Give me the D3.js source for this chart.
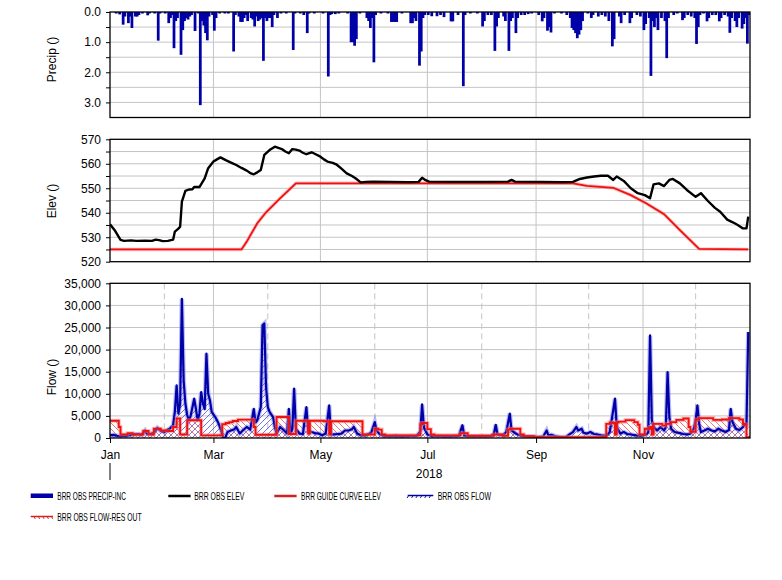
<!DOCTYPE html>
<html>
<head>
<meta charset="utf-8">
<script src="https://cdn.jsdelivr.net/npm/d3@7"></script>
<style>
body { margin: 0; background: #fff; }
text { font-family: "Liberation Sans", Arial, sans-serif; }
</style>
</head>
<body>
<svg id="chart" width="782" height="580"></svg>
<script>
"use strict";

// day-of-year (0 = 1 Jan 2018), value
const precipIn = [
    [3, 0.05], [5, 0.08], [7, 0.42], [8, 0.15], [10, 0.37], [11, 0.15], [12, 0.53], [14, 0.15], [15, 0.15], [16, 0.1],
    [18, 0.05], [21, 0.11], [22, 0.05], [25, 0.05], [27, 0.95], [28, 0.05], [31, 0.05], [33, 0.37], [34, 0.2], [35, 0.1],
    [36, 1.2], [37, 0.3], [38, 0.2], [40, 1.42], [41, 0.6], [42, 0.3], [43, 0.2], [44, 0.25], [45, 0.15], [46, 0.1],
    [48, 0.63], [50, 0.05], [51, 3.09], [52, 0.3], [53, 0.45], [54, 0.7], [55, 0.94], [56, 0.15], [58, 0.1], [59, 0.62],
    [60, 0.2], [62, 0.05], [65, 0.05], [67, 0.05], [70, 1.31], [71, 0.1], [73, 0.15], [74, 0.33], [75, 0.33], [76, 0.2],
    [77, 0.1], [78, 0.3], [80, 0.2], [81, 0.25], [82, 0.48], [83, 0.15], [84, 0.3], [85, 0.25], [86, 0.2], [87, 1.62],
    [88, 0.2], [89, 0.3], [90, 0.2], [91, 0.2], [92, 0.5], [93, 0.1], [95, 0.2], [97, 0.05], [100, 0.05], [104, 1.26],
    [105, 0.05], [108, 0.05], [110, 0.1], [112, 0.7], [113, 0.05], [116, 0.05], [121, 0.05], [124, 2.14], [125, 0.1],
    [126, 0.07], [128, 0.07], [130, 0.05], [135, 0.05], [137, 1.0], [138, 1.0], [139, 1.12], [140, 0.9], [142, 0.05],
    [146, 0.2], [147, 0.3], [148, 0.53], [149, 0.2], [150, 1.67], [151, 0.1], [154, 0.05], [158, 0.05], [160, 0.33],
    [161, 0.33], [162, 0.33], [163, 0.33], [166, 0.05], [171, 0.37], [172, 0.37], [173, 0.2], [174, 0.3], [176, 1.78],
    [177, 1.31], [178, 0.2], [179, 0.1], [181, 0.1], [183, 0.14], [186, 0.14], [188, 0.1], [190, 0.17], [194, 0.31],
    [195, 0.31], [198, 0.1], [201, 2.46], [202, 0.1], [205, 0.05], [209, 0.05], [212, 0.48], [213, 0.3], [215, 0.1],
    [217, 0.1], [219, 1.29], [220, 0.48], [221, 0.2], [224, 0.15], [225, 0.3], [227, 1.29], [228, 0.3], [229, 0.2],
    [231, 0.7], [232, 0.2], [234, 0.1], [236, 0.1], [238, 0.07], [240, 0.05], [244, 0.1], [246, 0.31], [247, 0.2],
    [249, 0.62], [250, 0.5], [251, 0.68], [253, 0.05], [257, 0.05], [260, 0.1], [262, 0.2], [263, 0.53], [264, 0.6],
    [265, 0.7], [266, 0.87], [267, 0.75], [268, 0.6], [269, 0.3], [272, 0.05], [274, 0.2], [275, 0.1], [278, 0.15],
    [280, 0.1], [282, 0.15], [284, 0.3], [286, 1.14], [287, 0.9], [290, 0.15], [291, 0.37], [293, 0.1], [296, 0.37],
    [297, 0.2], [300, 0.1], [302, 0.15], [304, 0.6], [305, 0.4], [307, 0.2], [308, 2.12], [309, 0.3], [310, 0.5],
    [311, 0.2], [312, 0.6], [314, 0.2], [316, 0.3], [317, 1.53], [318, 0.2], [321, 0.1], [323, 0.05], [326, 0.27],
    [327, 0.2], [329, 0.1], [331, 0.15], [333, 0.2], [334, 1.06], [335, 0.5], [336, 0.1], [338, 0.05], [340, 0.31],
    [341, 0.2], [343, 0.1], [345, 0.1], [347, 0.31], [348, 0.2], [350, 0.1], [352, 0.15], [353, 0.69], [354, 0.2],
    [356, 0.3], [357, 0.5], [358, 0.2], [360, 0.55], [361, 0.4], [362, 0.2], [363, 1.05], [364, 0.1]
]

const obsElev = [
    [0, 535.3], [3, 532.5], [6, 528.9], [8, 528.5], [12, 528.7], [15, 528.5], [20, 528.6], [24, 528.5], [26, 529],
    [28, 528.8], [30, 528.4], [33, 528.5], [36, 529], [37, 532.3], [39, 533.5], [40, 534.3], [41, 544.5], [43, 548.9],
    [45, 549.5], [47, 549.6], [48, 550.5], [51, 550.5], [54, 554], [56, 558.2], [59, 560.9], [61, 561.8], [63, 562.6],
    [66, 561.5], [69, 560.5], [72, 559.5], [75, 558.3], [78, 557.2], [80, 556.2], [82, 555.7], [84, 556.5], [86, 557.5],
    [88, 563.6], [91, 565.6], [94, 567], [96, 566.5], [98, 566], [100, 565], [102, 564.3], [104, 566], [106, 565.8],
    [108, 565.4], [110, 564.5], [112, 563.9], [115, 564.7], [117, 564], [120, 562.9], [122, 561.8], [124, 560.9],
    [127, 560.4], [129, 559.8], [132, 558], [135, 556.1], [138, 555], [140, 554.1], [143, 552.4], [146, 552.6],
    [150, 552.7], [160, 552.6], [170, 552.5], [176, 552.6], [178, 554.3], [180, 553.3], [182, 552.7], [195, 552.6],
    [210, 552.6], [227, 552.7], [229, 553.4], [231, 552.7], [245, 552.6], [258, 552.5], [264, 552.6], [268, 553.8],
    [272, 554.4], [276, 554.8], [280, 555.1], [284, 555.1], [287, 553.4], [289, 554.8], [293, 553], [297, 550],
    [301, 548], [305, 547.2], [308, 545.9], [310, 551.6], [313, 552], [316, 550.9], [319, 553.4], [321, 553.8],
    [325, 552], [329, 549.3], [334, 546.5], [337, 548], [341, 544.8], [345, 542], [348, 540.4], [352, 537.2],
    [354, 536.5], [356, 535.8], [358, 535], [361, 533.6], [363, 533.6], [364, 538.4]
]

const guideElev = [
    [0, 525], [75, 525], [78, 528.2], [84, 535.7], [89, 540.2], [97, 545.9], [106, 552], [264, 552], [272, 551],
    [287, 550.2], [297, 547.2], [306, 543.8], [316, 539.4], [325, 532.9], [336, 525.2], [364, 525]
]

const obsFlow = [
    [0, 600], [2, 700], [4, 500], [6, 400], [9, 450], [12, 700], [14, 800], [16, 900], [18, 700], [20, 1700], [21, 1000],
    [23, 900], [25, 1200], [27, 2300], [29, 1600], [31, 1350], [33, 1900], [34, 2100], [36, 2900], [37, 6000],
    [38, 11900], [39, 5500], [40, 7800], [41, 31500], [42, 13000], [43, 7800], [44, 5200], [45, 4000], [46, 5000],
    [48, 8900], [49, 6600], [50, 4000], [51, 5500], [52, 10400], [53, 7800], [54, 6500], [55, 19100], [56, 10000],
    [57, 8500], [58, 5900], [60, 4750], [61, 4000], [62, 3200], [63, 2100], [64, 1000], [65, -500], [66, 300],
    [67, 1350], [69, 1700], [71, 2000], [72, 2500], [74, 1000], [76, 1800], [78, 2500], [80, 1900], [82, 6600],
    [83, 3500], [84, 4000], [86, 7000], [87, 25500], [88, 25900], [89, 11500], [90, 7000], [91, 5900], [93, 4750],
    [94, 2500], [95, 1000], [97, 2500], [99, 1800], [101, 1000], [102, 6600], [103, 1000], [104, 2000], [105, 11200],
    [106, 2100], [108, 1000], [110, 900], [112, 7000], [113, 1700], [115, 1350], [117, 1100], [119, 1000], [121, 600],
    [123, 1000], [125, 7400], [126, 800], [128, 800], [130, 900], [132, 1000], [134, 1700], [136, 1700], [138, 2000],
    [139, 2500], [141, 1000], [143, 600], [146, 600], [149, 1200], [151, 3600], [152, 1700], [154, 800], [157, 400],
    [160, 400], [163, 500], [166, 350], [169, 400], [172, 450], [175, 500], [177, 1500], [178, 7600], [179, 2500],
    [181, 800], [184, 400], [188, 400], [192, 350], [196, 400], [199, 500], [201, 2900], [202, 600], [205, 400],
    [209, 400], [213, 450], [217, 400], [219, 1000], [220, 3000], [221, 800], [224, 600], [226, 1350], [228, 5500],
    [229, 1700], [231, 1100], [233, 700], [236, 400], [240, 300], [244, 200], [247, 300], [249, 1700], [250, 600],
    [252, 700], [254, 400], [257, 200], [260, 200], [262, 800], [264, 1350], [266, 2500], [267, 1700], [269, 2100],
    [270, 1200], [272, 1000], [274, 1350], [276, 900], [278, 800], [280, 600], [283, 500], [285, 1350], [287, 6300],
    [288, 8900], [289, 2500], [291, 1000], [293, 1350], [295, 900], [297, 800], [300, 600], [303, 500], [306, 800],
    [307, 1350], [308, 23200], [309, 4000], [310, 2500], [312, 1700], [314, 2500], [316, 1700], [317, 2500],
    [318, 14900], [319, 4750], [320, 2100], [322, 1350], [325, 1100], [327, 900], [329, 800], [331, 1000], [333, 2100],
    [334, 4000], [335, 7400], [336, 3200], [337, 1350], [339, 1700], [341, 2100], [343, 1700], [345, 1500], [347, 2100],
    [349, 1700], [351, 1350], [353, 1800], [354, 6600], [355, 3600], [357, 2100], [359, 1800], [361, 2500], [362, 3200],
    [363, 3000], [364, 24000]
]

// reservoir outflow, held constant until the next entry
const resOutFlow = [
    [0, 3900], [5, 2500], [6, 800], [10, 1100], [13, 800], [19, 1600], [22, 800], [25, 2100], [29, 1700], [33, 1600],
    [36, 2500], [38, 4400], [40, 800], [44, 4000], [52, 600], [64, 3100], [66, 3400], [68, 3600], [70, 3850],
    [73, 4150], [82, 2500], [83, 750], [95, 4750], [102, 900], [106, 3900], [113, 1000], [114, 3900], [122, 3800],
    [125, 800], [126, 3800], [144, 800], [151, 2100], [153, 1900], [155, 800], [157, 600], [177, 3100], [178, 3400],
    [181, 2000], [183, 800], [185, 600], [200, 1100], [204, 500], [219, 800], [224, 500], [227, 1900], [228, 2100],
    [234, 800], [236, 400], [242, 200], [283, 3200], [285, 3500], [287, 3400], [288, 800], [289, 3500], [290, 3700],
    [294, 4050], [299, 3600], [301, 3000], [302, 800], [305, 2100], [308, 2500], [309, 800], [310, 3200], [315, 2800],
    [317, 3200], [320, 3600], [323, 4100], [327, 4400], [330, 2500], [331, 1400], [334, 4200], [336, 4500], [344, 4100],
    [349, 4200], [353, 4500], [359, 4200], [361, 3100], [363, 200], [365, 200]
]

const precipTicks = [0, 1, 2, 3]
const elevTicks = [520, 530, 540, 550, 560, 570]
const flowTicks = [0, 5000, 10000, 15000, 20000, 25000, 30000, 35000]
const axisTitles = ["Precip ()", "Elev ()", "Flow ()"]
const yearLabel = "2018"
const legendLabels = ["BRR OBS PRECIP-INC", "BRR OBS ELEV", "BRR GUIDE CURVE ELEV", "BRR OBS FLOW", "BRR OBS FLOW-RES OUT"]

const svg = d3.select("#chart")
const left = 110
const right = 750
const yearStart = new Date(2018, 0, 1)
const yearEnd = new Date(2019, 0, 1)
const toDate = d => new Date(+yearStart + d * 864e5)

const x = d3.scaleTime().domain([yearStart, yearEnd]).range([left, right])
const yPrecip = d3.scaleLinear().domain([0, 3.5]).range([12, 117.5])
const yElev = d3.scaleLinear().domain([520, 570]).range([261.7, 139.3])
const yFlow = d3.scaleLinear().domain([0, 35000]).range([438, 283.3])

const gridColor = "#c4c4c4"
const blue = "#0000a8"
const red = "#ee1111"
const oddMonths = d3.timeMonth.every(2).range(yearStart, yearEnd)
const evenMonths = d3.timeMonth.range(yearStart, yearEnd).filter(d => d.getMonth() % 2 == 1)

const defs = svg.append("defs")
defs.append("pattern").attr("id", "hatchBlue").attr("patternUnits", "userSpaceOnUse")
    .attr("width", 6).attr("height", 6)
    .append("path").attr("d", "M0,6L6,0M-1,1L1,-1M5,7L7,5")
    .attr("stroke", "#3a3ad0").attr("stroke-width", 0.7)
defs.append("pattern").attr("id", "hatchRed").attr("patternUnits", "userSpaceOnUse")
    .attr("width", 6).attr("height", 6)
    .append("path").attr("d", "M0,0L6,6M-1,5L1,7M5,-1L7,1")
    .attr("stroke", "#e04040").attr("stroke-width", 0.7)

function panel(name, y, gridValues, dashed) {
    const [top, bottom] = d3.extent(y.range())
    const g = svg.append("g")
    g.append("g").selectAll("line").data(gridValues).join("line")
        .attr("x1", left).attr("x2", right)
        .attr("y1", d => y(d)).attr("y2", d => y(d))
        .attr("stroke", gridColor)
    g.append("g").selectAll("line").data(oddMonths.slice(1)).join("line")
        .attr("x1", d => x(d)).attr("x2", d => x(d))
        .attr("y1", top).attr("y2", bottom)
        .attr("stroke", gridColor)
    if (dashed) {
        g.append("g").selectAll("line").data(evenMonths).join("line")
            .attr("x1", d => x(d)).attr("x2", d => x(d))
            .attr("y1", top).attr("y2", bottom)
            .attr("stroke", gridColor).attr("stroke-dasharray", "6,4")
    }
    defs.append("clipPath").attr("id", "clip-" + name)
        .append("rect").attr("x", left).attr("y", top).attr("width", right - left).attr("height", bottom - top)
    const plot = g.append("g").attr("clip-path", "url(#clip-" + name + ")")
    return { g, plot, top, bottom }
}

function frame(p) {
    p.g.append("rect")
        .attr("x", left).attr("y", p.top).attr("width", right - left).attr("height", p.bottom - p.top)
        .attr("fill", "none").attr("stroke", "#000").attr("stroke-width", 1.3)
}

function yAxis(p, y, ticks, minor, fmt) {
    if (minor) {
        p.g.append("g").attr("transform", `translate(${left},0)`)
            .call(d3.axisLeft(y).tickValues(minor).tickSize(4).tickFormat(""))
            .call(a => a.select(".domain").remove())
    }
    p.g.append("g").attr("transform", `translate(${left},0)`)
        .call(d3.axisLeft(y).tickValues(ticks).tickSize(4).tickPadding(5).tickFormat(fmt))
        .call(a => a.select(".domain").remove())
        .call(a => a.selectAll("text").attr("font-size", 12).attr("fill", "#000")
            .style("font-family", "'Liberation Sans', Arial, sans-serif"))
}

// precip panel
const pPrecip = panel("precip", yPrecip, d3.range(0.5, 3.5, 0.5), false)
pPrecip.plot.selectAll("rect").data(precipIn).join("rect")
    .attr("x", d => x(toDate(d[0])) - 0.5)
    .attr("width", d => x(toDate(d[0] + 1)) - x(toDate(d[0])) + 1)
    .attr("y", yPrecip(0))
    .attr("height", d => yPrecip(d[1]) - yPrecip(0))
    .attr("fill", blue)
frame(pPrecip)
yAxis(pPrecip, yPrecip, precipTicks, d3.range(0.5, 3.5, 1), d3.format(".1f"))

// elevation panel
const pElev = panel("elev", yElev, d3.range(525, 570, 5), false)
const elevLine = d3.line().x(d => x(toDate(d[0]))).y(d => yElev(d[1]))
pElev.plot.append("path").datum(guideElev).attr("d", elevLine)
    .attr("fill", "none").attr("stroke", "#ff9090").attr("stroke-width", 3.5).attr("opacity", 0.6)
pElev.plot.append("path").datum(guideElev).attr("d", elevLine)
    .attr("fill", "none").attr("stroke", red).attr("stroke-width", 1.8)
pElev.plot.append("path").datum(obsElev).attr("d", elevLine)
    .attr("fill", "none").attr("stroke", "#000").attr("stroke-width", 2.4).attr("stroke-linejoin", "round")
frame(pElev)
yAxis(pElev, yElev, elevTicks, d3.range(525, 570, 10), d3.format("d"))

// flow panel
const pFlow = panel("flow", yFlow, d3.range(5000, 35000, 5000), true)
const fx = d => x(toDate(d[0]))
const flowArea = d3.area().x(fx).y0(yFlow(0)).y1(d => yFlow(Math.max(0, d[1])))
const flowLine = d3.line().x(fx).y(d => yFlow(d[1]))
const resArea = d3.area().curve(d3.curveStepAfter).x(fx).y0(yFlow(0)).y1(d => yFlow(d[1]))
const resLine = d3.line().curve(d3.curveStepAfter).x(fx).y(d => yFlow(d[1]))

pFlow.plot.append("path").datum(obsFlow).attr("d", flowArea).attr("fill", "url(#hatchBlue)")
pFlow.plot.append("path").datum(resOutFlow).attr("d", resArea).attr("fill", "url(#hatchRed)")
pFlow.plot.append("path").datum(obsFlow).attr("d", flowLine)
    .attr("fill", "none").attr("stroke", "#6a6af0").attr("stroke-width", 4.5).attr("opacity", 0.45)
pFlow.plot.append("path").datum(obsFlow).attr("d", flowLine)
    .attr("fill", "none").attr("stroke", blue).attr("stroke-width", 2.2).attr("stroke-linejoin", "round")
pFlow.plot.append("path").datum(resOutFlow).attr("d", resLine)
    .attr("fill", "none").attr("stroke", "#ff8080").attr("stroke-width", 4).attr("opacity", 0.5)
pFlow.plot.append("path").datum(resOutFlow).attr("d", resLine)
    .attr("fill", "none").attr("stroke", red).attr("stroke-width", 1.9)
frame(pFlow)
yAxis(pFlow, yFlow, flowTicks, null, d3.format(","))

// time axis
svg.append("g").attr("transform", `translate(0,${yFlow(0)})`)
    .call(d3.axisBottom(x).tickValues(oddMonths).tickSize(5).tickPadding(7.5).tickFormat(d3.timeFormat("%b")))
    .call(a => a.select(".domain").remove())
    .call(a => a.selectAll("text").attr("font-size", 12).attr("fill", "#000")
        .style("font-family", "'Liberation Sans', Arial, sans-serif"))
svg.append("line").attr("x1", x(yearStart)).attr("x2", x(yearStart)).attr("y1", 463).attr("y2", 480)
    .attr("stroke", "#000")
svg.append("text").attr("x", x(new Date(2018, 6, 2))).attr("y", 478)
    .attr("text-anchor", "middle").attr("font-size", 12).text(yearLabel)

// y titles
const titleCenters = [59.5, 201, 377]
axisTitles.forEach((t, i) => {
    svg.append("text")
        .attr("transform", `translate(56,${titleCenters[i]}) rotate(-90)`)
        .attr("text-anchor", "middle").attr("font-size", 12).text(t)
})

// legend
const legendItems = [
    { sx: 30.7, tx: 57.3, y: 496, w: 68.7, kind: "bar" },
    { sx: 168.3, tx: 194.3, y: 496, w: 50, kind: "black" },
    { sx: 274.3, tx: 301, y: 496, w: 80, kind: "red" },
    { sx: 407.7, tx: 437.7, y: 495.5, w: 53.3, kind: "flow" },
    { sx: 30.7, tx: 57.3, y: 516.5, w: 84.3, kind: "res" }
]
const lg = svg.append("g")
legendItems.forEach((it, i) => {
    const sw = it.kind == "flow" ? 25.6 : 22.3
    if (it.kind == "bar") {
        lg.append("rect").attr("x", it.sx).attr("y", it.y - 2.5).attr("width", sw).attr("height", 4.5).attr("fill", blue)
    } else {
        const col = it.kind == "black" ? "#000" : (it.kind == "flow" ? blue : "#d42020")
        lg.append("line").attr("x1", it.sx).attr("x2", it.sx + sw).attr("y1", it.y).attr("y2", it.y)
            .attr("stroke", col).attr("stroke-width", it.kind == "flow" || it.kind == "res" ? 1.5 : 2.5)
        if (it.kind == "flow" || it.kind == "res") {
            d3.range(it.sx + 1, it.sx + sw - 1, 4.4).forEach(px => {
                lg.append("line").attr("stroke", col).attr("stroke-width", 0.9)
                    .attr("x1", it.kind == "flow" ? px : px + 2.2).attr("y1", it.y)
                    .attr("x2", it.kind == "flow" ? px - 1.6 : px + 3.6).attr("y2", it.y + 2.5)
            })
        }
    }
    lg.append("text").attr("x", it.tx).attr("y", it.y + 4)
        .attr("font-size", 10.5).attr("textLength", it.w).attr("lengthAdjust", "spacingAndGlyphs")
        .text(legendLabels[i])
})
</script>
</body>
</html>
